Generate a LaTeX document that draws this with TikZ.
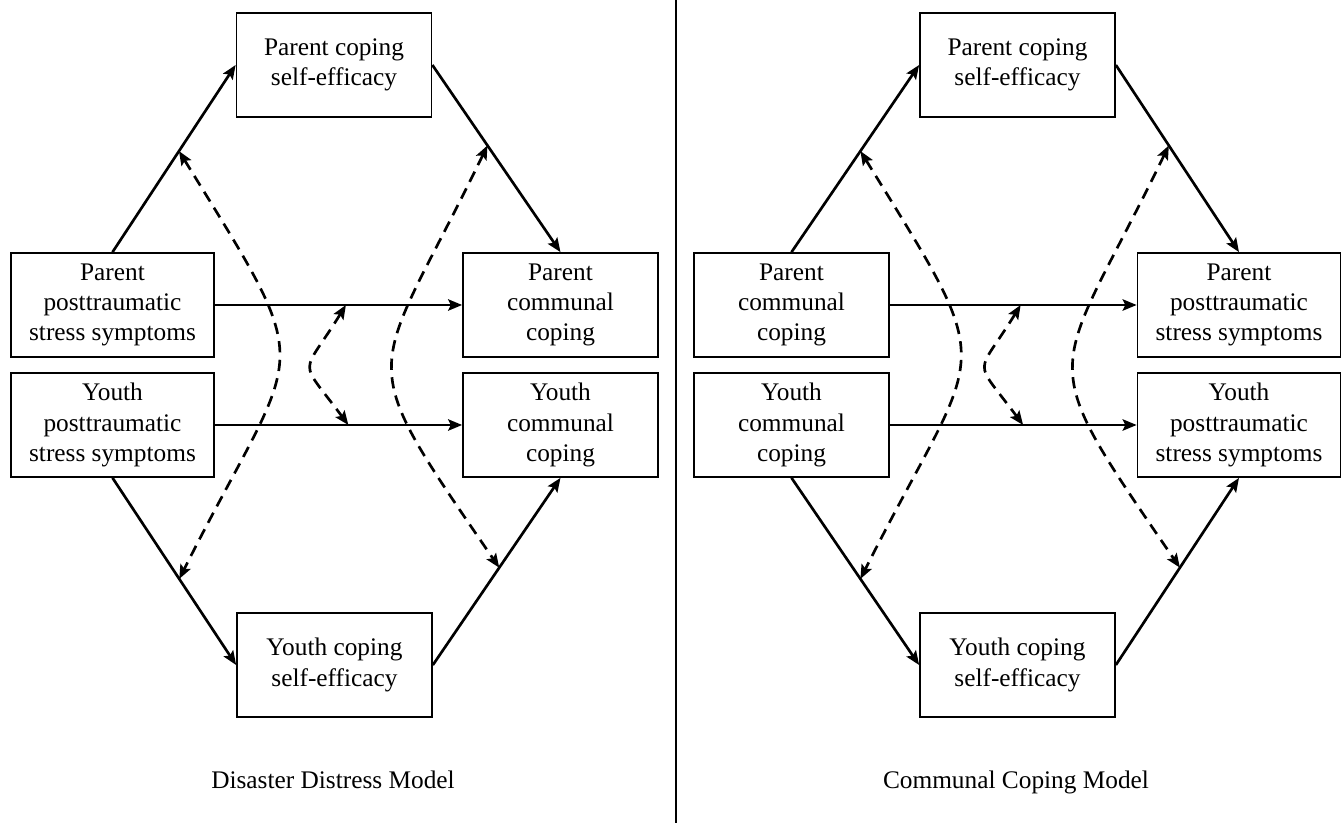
\documentclass[tikz,border=0pt]{standalone}
\usepackage{fontspec}
\setmainfont{Liberation Serif}
\usetikzlibrary{arrows.meta,calc}

\tikzset{
  box/.style={draw, line width=1.3pt, minimum width=146.25pt, minimum height=78pt,
    align=center, inner sep=2pt, font=\fontsize{19}{22.7}\selectfont},
  widebox/.style={box, minimum width=152.25pt},
  link/.style={line width=2pt, -{Stealth[length=10.5pt,width=8.5pt,inset=2pt]}},
  corr/.style={line width=2pt, dash pattern=on 8.5pt off 5.5pt,
    {Stealth[length=10.5pt,width=8.5pt,inset=2pt]}-{Stealth[length=10.5pt,width=8.5pt,inset=2pt]}},
  caption/.style={anchor=base, font=\fontsize{19}{22.7}\selectfont}
}

\begin{document}
\begin{tikzpicture}[x=0.75pt, y=-0.75pt]
    \useasboundingbox (0,0) rectangle (1343,823);

    % left panel: disaster distress model
    \node[box] (lps) at (334,65) {Parent coping\\self-efficacy};
    \node[widebox] (lpp) at (112.5,305) {Parent\\posttraumatic\\stress symptoms};
    \node[widebox] (lyp) at (112.5,425) {Youth\\posttraumatic\\stress symptoms};
    \node[box] (lpc) at (560.5,305) {Parent\\communal\\coping};
    \node[box] (lyc) at (560.5,425) {Youth\\communal\\coping};
    \node[box] (lys) at (334.5,665) {Youth coping\\self-efficacy};
    \node[caption] (lcap) at (333,788) {Disaster Distress Model};

    \draw[link] (lpp.north) -- (lps.west);
    \draw[link] (lps.east) -- (lpc.north);
    \draw[link] (lpp.east) -- (lpc.west);
    \draw[link] (lyp.east) -- (lyc.west);
    \draw[link] (lyp.south) -- (lys.west);
    \draw[link] (lys.east) -- (lyc.south);

    \coordinate (la1) at ($(lpp.north)!0.54!(lps.west)$);
    \coordinate (la2) at ($(lyp.south)!0.54!(lys.west)$);
    \coordinate (lb1) at ($(lps.east)!0.43!(lpc.north)$);
    \coordinate (lb2) at ($(lys.east)!0.52!(lyc.south)$);
    \coordinate (lc1) at ($(lpp.east)!0.53!(lpc.west)$);
    \coordinate (lc2) at ($(lyp.east)!0.54!(lyc.west)$);
    \draw[corr] (la1) .. controls +(142.8,231.5) and +(122.3,-242.9) .. (la2);
    \draw[corr] (lb1) .. controls +(-116.8,241) and +(-151.4,-221.1) .. (lb2);
    \draw[corr] (lc1) .. controls +(-45,73) and +(-51.1,-68.7) .. (lc2);

    % divider
    \draw[line width=0.8pt] (676,0) -- (676,823);

    % right panel: communal coping model
    \node[box] (rps) at (1017.5,65) {Parent coping\\self-efficacy};
    \node[box] (rpc) at (791.5,305) {Parent\\communal\\coping};
    \node[box] (ryc) at (791.5,425) {Youth\\communal\\coping};
    \node[widebox] (rpp) at (1239,305) {Parent\\posttraumatic\\stress symptoms};
    \node[widebox] (ryp) at (1239,425) {Youth\\posttraumatic\\stress symptoms};
    \node[box] (rys) at (1017.5,665) {Youth coping\\self-efficacy};
    \node[caption] (rcap) at (1016,788) {Communal Coping Model};

    \draw[link] (rpc.north) -- (rps.west);
    \draw[link] (rps.east) -- (rpp.north);
    \draw[link] (rpc.east) -- (rpp.west);
    \draw[link] (ryc.east) -- (ryp.west);
    \draw[link] (ryc.south) -- (rys.west);
    \draw[link] (rys.east) -- (ryp.south);

    \coordinate (ra1) at ($(rpc.north)!0.54!(rps.west)$);
    \coordinate (ra2) at ($(ryc.south)!0.54!(rys.west)$);
    \coordinate (rb1) at ($(rps.east)!0.43!(rpp.north)$);
    \coordinate (rb2) at ($(rys.east)!0.52!(ryp.south)$);
    \coordinate (rc1) at ($(rpc.east)!0.53!(rpp.west)$);
    \coordinate (rc2) at ($(ryc.east)!0.54!(ryp.west)$);
    \draw[corr] (ra1) .. controls +(142.8,231.5) and +(122.3,-242.9) .. (ra2);
    \draw[corr] (rb1) .. controls +(-116.8,241) and +(-151.4,-221.1) .. (rb2);
    \draw[corr] (rc1) .. controls +(-45,73) and +(-51.1,-68.7) .. (rc2);
\end{tikzpicture}
\end{document}
